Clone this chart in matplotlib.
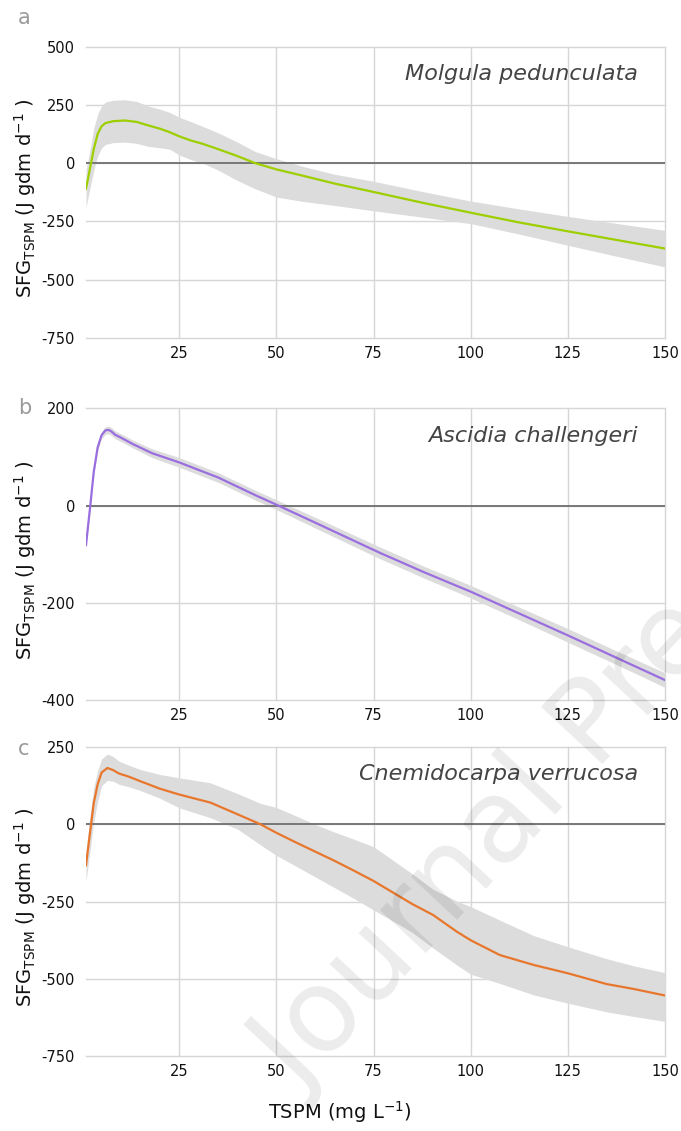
import matplotlib
matplotlib.use("Agg")
import matplotlib.pyplot as plt

# ---------------- data ----------------
species = ["Molgula pedunculata", "Ascidia challengeri", "Cnemidocarpa verrucosa"]
panel_letters = ["a", "b", "c"]
x_ticks = [25, 50, 75, 100, 125, 150]

xa = [1, 2.3, 3, 4, 5, 6, 8, 11, 14, 17, 20, 22.5, 25, 28, 31, 35, 40, 44.5, 50, 57, 65, 75, 87.5, 100, 112.5, 125, 137.5, 150]
ya = [-110, 0, 60, 125, 158, 172, 180, 183, 177, 162, 148, 133, 115, 97, 83, 60, 30, 0, -27, -55, -88, -124, -170, -213, -255, -293, -330, -367]
la = [-190, -85, -30, 30, 65, 80, 88, 90, 85, 72, 66, 60, 35, 15, 0, -30, -75, -110, -146, -165, -182, -205, -232, -260, -305, -353, -400, -446]
ua = [-30, 80, 150, 210, 245, 262, 270, 272, 265, 245, 232, 218, 197, 178, 158, 130, 90, 50, 19, -15, -48, -78, -122, -163, -197, -229, -259, -289]
yticks_a = [500, 250, 0, -250, -500, -750]

xb = [1, 2.1, 3, 4, 5, 6, 6.8, 7.5, 8.5, 10, 13, 18, 25, 35, 45, 50, 60, 76.6, 88, 100, 112.5, 125, 137.5, 150]
yb = [-81, 0, 70, 120, 145, 155, 156, 153, 146, 140, 127, 108, 89, 58, 20, 2, -35, -97, -137, -177, -222, -267, -313, -359]
lb = [-85, -5, 64, 113, 138, 147, 148, 145, 138, 132, 119, 99, 79, 48, 10, -8, -46, -109, -149, -190, -235, -281, -327, -374]
ub = [-77, 5, 76, 127, 152, 163, 164, 161, 154, 148, 135, 117, 99, 68, 30, 12, -24, -85, -125, -164, -209, -253, -299, -344]
yticks_b = [200, 0, -200, -400]

xc = [1, 2.3, 3, 4, 5, 6.5, 8, 9.5, 12, 15, 20, 25, 33, 40, 46, 50, 55, 60, 65, 70, 75, 81.8, 85, 90.3, 96.4, 100, 107.5, 116.2, 125, 135, 142, 150]
yc = [-132, 0, 70, 130, 168, 183, 176, 165, 155, 140, 116, 97, 71, 33, 0, -27, -58, -88, -118, -150, -183, -234, -258, -293, -347, -375, -423, -455, -482, -517, -533, -554]
lc = [-185, -60, 10, 75, 125, 143, 140, 130, 122, 110, 85, 54, 22, -15, -67, -100, -135, -170, -205, -240, -277, -326, -350, -400, -455, -485, -515, -552, -579, -607, -622, -638]
uc = [-85, 55, 120, 175, 212, 228, 220, 205, 192, 178, 162, 151, 135, 100, 68, 55, 28, 0, -25, -48, -72, -132, -160, -210, -248, -266, -310, -360, -396, -435, -458, -480]
yticks_c = [250, 0, -250, -500, -750]

line_colors = ["#9dcf00", "#9b6ee0", "#e8772e"]

# ---------------- figure ----------------
W, H = 681, 1131
fig = plt.figure(figsize=(W / 100, H / 100), dpi=100)

left = 86 / W
width = (665 - 86) / W
boxes = [(46.7, 337.7), (408.5, 700.0), (747.3, 1056.0)]
letter_y = [18, 408, 749]

panels = [
    (xa, ya, la, ua, yticks_a),
    (xb, yb, lb, ub, yticks_b),
    (xc, yc, lc, uc, yticks_c),
]

ylabel = r"SFG$_{\mathregular{TSPM}}$ (J gdm d$^{\mathregular{-1}}$ )"

for i, ((x, y, lo, hi, yt), (top, bot)) in enumerate(zip(panels, boxes)):
    ax = fig.add_axes([left, 1 - bot / H, width, (bot - top) / H])
    ax.fill_between(x, lo, hi, color="#dcdcdc", lw=0, zorder=1)
    ax.plot(x, y, color=line_colors[i], lw=1.6, zorder=3)
    ax.axhline(0, color="#777777", lw=1.4, zorder=2)
    ax.set_xlim(1, 150)
    ax.set_ylim(min(yt), max(yt))
    ax.set_yticks(yt)
    ax.set_xticks(x_ticks)
    ax.set_yticklabels([str(v) for v in yt])
    ax.grid(True, color="#d6d6d6", lw=1.0, zorder=0)
    ax.set_axisbelow(True)
    for gl in ax.get_xgridlines() + ax.get_ygridlines():
        gl.set_clip_on(False)
    for s in ax.spines.values():
        s.set_visible(False)
    ax.tick_params(length=0, labelsize=10.5, colors="#111111", pad=6)
    ax.tick_params(axis="y", pad=8)
    ax.text(0.953, 1 - 27 / (bot - top), species[i], transform=ax.transAxes,
            ha="right", va="center", fontsize=16, style="italic", color="#444444")
    fig.text(18 / W, 1 - letter_y[i] / H, panel_letters[i],
             ha="left", va="center", fontsize=15, color="#9a9a9a")
    fig.text(25 / W, 1 - ((top + bot) / 2 + 6) / H, ylabel, rotation=90,
             ha="center", va="center", fontsize=14, color="#111111")

fig.text(340 / W, 1 - 1112 / H, r"TSPM (mg L$^{\mathregular{-1}}$)", ha="center",
         va="center", fontsize=14, color="#111111")

# watermark
fig.text(300 / W, 1 - 1095 / H, "Journal Pre-proof", rotation=47, rotation_mode="anchor",
         ha="left", va="baseline", fontsize=83, color="black", alpha=0.08, zorder=10)

fig.savefig("out.png", dpi=100)
